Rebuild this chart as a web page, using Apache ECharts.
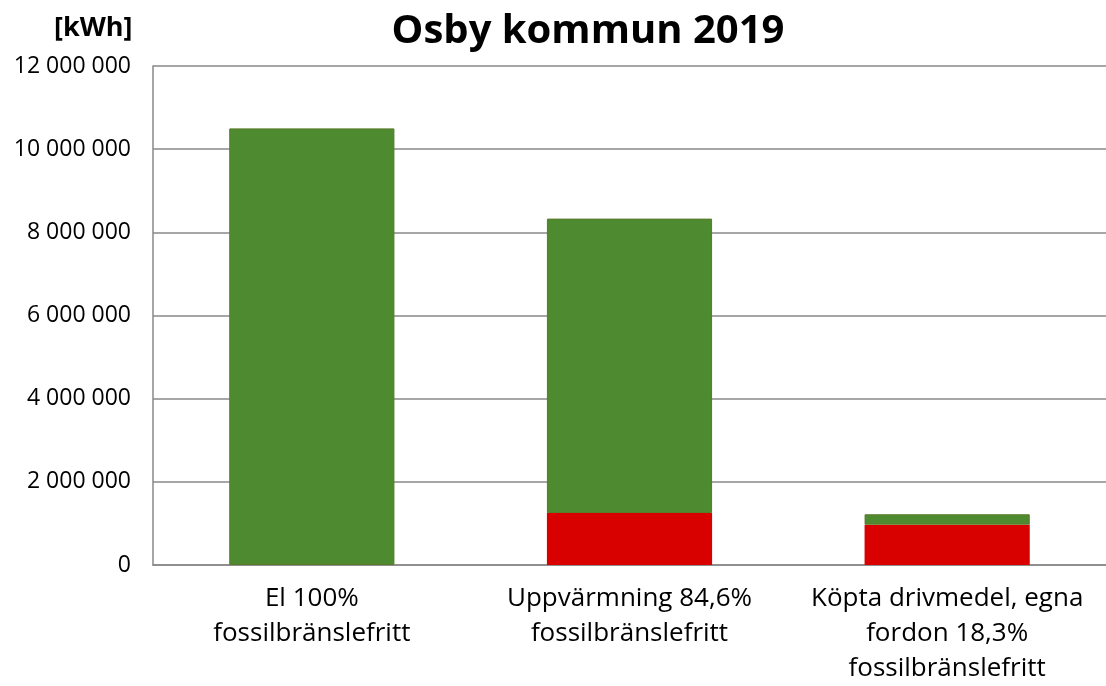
<!DOCTYPE html>
<html><head><meta charset="utf-8">
<script src="https://cdn.jsdelivr.net/npm/echarts@6/dist/echarts.min.js"></script>
<style>html,body{margin:0;padding:0;background:#fff}#c{width:1106px;height:686px}</style>
</head><body><div id="c"></div>
<script>
const categories = ['El 100%\nfossilbränslefritt', 'Uppvärmning 84,6%\nfossilbränslefritt', 'Köpta drivmedel, egna\nfordon 18,3%\nfossilbränslefritt'];
const fossil = [0, 1250000, 970000];
const fossilFree = [10500000, 7080000, 250000];
const yTicks = [0, 2000000, 4000000, 6000000, 8000000, 10000000, 12000000];

const chart = echarts.init(document.getElementById('c'));
const font = '"Open Sans", "Noto Sans", sans-serif';
chart.setOption({
  animation: false,
  textStyle: {fontFamily: font},
  title: {text: 'Osby kommun 2019', left: 583, top: 7, textAlign: 'center',
    textStyle: {fontSize: 40, fontWeight: 'bold', color: '#000', fontFamily: font}},
  graphic: [{type: 'text', left: 54, top: 15, style: {text: '[kWh]', font: 'bold 27px "Open Sans", sans-serif', fill: '#000'}}],
  grid: {left: 153, right: -7, top: 66, bottom: 120},
  xAxis: {type: 'category', data: categories,
    axisLine: {show: true, lineStyle: {color: '#888', width: 1.5}},
    axisTick: {show: false},
    axisLabel: {fontSize: 26, color: '#000', lineHeight: 35, margin: 16, interval: 0, fontFamily: font}},
  yAxis: {type: 'value', min: 0, max: 12000000, interval: 2000000,
    axisLine: {show: true, lineStyle: {color: '#888', width: 1.5}},
    axisTick: {show: false},
    splitLine: {lineStyle: {color: '#888', width: 1.5}},
    axisLabel: {fontSize: 23, color: '#000', margin: 22, fontFamily: font,
      formatter: v => yTicks.includes(v) ? String(v).replace(/\B(?=(\d{3})+(?!\d))/g, ' ') : ''}},
  series: [
    {type: 'bar', stack: 't', data: fossil.map(v => v === 0 ? null : v), barCategoryGap: '48%',
      itemStyle: {color: '#d90000'}},
    {type: 'bar', stack: 't', data: fossilFree,
      itemStyle: {color: '#4e8b30', borderColor: '#5a7a2a', borderWidth: 1}}
  ]
});
</script></body></html>
